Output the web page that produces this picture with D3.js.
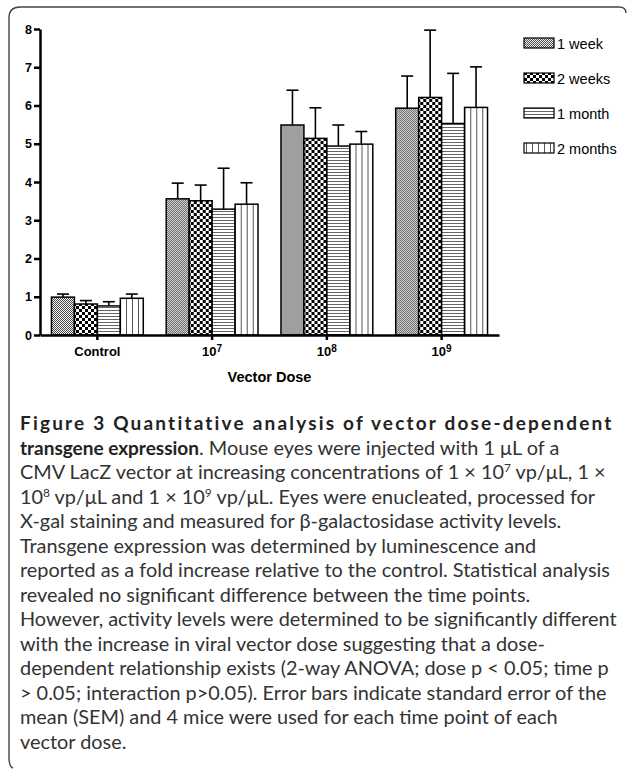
<!DOCTYPE html>
<html lang="en">
<head>
<meta charset="UTF-8">
<title>Vector dose bar chart</title>
<script src="https://d3js.org/d3.v7.min.js"></script>
<style>
    body { margin: 0; background: #fff; }
    svg { display: block; }
    .axis path, .axis line { stroke: #000; stroke-width: 2.5px; }
    .axis text { font-family: "Liberation Sans", Arial, sans-serif; font-weight: bold; font-size: 12.5px; fill: #000; }
    .caption { font-family: Lato, "Open Sans", sans-serif; fill: #333; }
</style>
</head>
<body>
<div id="chart"></div>
<script>
// dose groups and time points
var doses = ["Control", "10^7", "10^8", "10^9"];
var series = ["1 week", "2 weeks", "1 month", "2 months"];

// bar heights (fold increase), one array per time point
var week1  = [0.99, 3.56, 5.49, 5.93];
var week2  = [0.81, 3.51, 5.14, 6.21];
var month1 = [0.76, 3.29, 4.94, 5.53];
var month2 = [0.96, 3.42, 4.99, 5.95];

// SEM (upper whisker only)
var week1Err  = [0.08, 0.41, 0.91, 0.84];
var week2Err  = [0.09, 0.41, 0.80, 1.76];
var month1Err = [0.11, 1.07, 0.55, 1.31];
var month2Err = [0.11, 0.56, 0.33, 1.06];

var yTicks = [0, 1, 2, 3, 4, 5, 6, 7, 8];

var captionLines = [
    [["Figure 3 Quantitative analysis of vector dose-dependent", "b"]],
    [["transgene expression", "b"], [". Mouse eyes were injected with 1 \u03bcL of a", ""]],
    [["CMV LacZ vector at increasing concentrations of 1 \u00d7 10", ""], ["7", "sup"], [" vp/\u03bcL, 1 \u00d7", ""]],
    [["10", ""], ["8", "sup"], [" vp/\u03bcL and 1 \u00d7 10", ""], ["9", "sup"], [" vp/\u03bcL. Eyes were enucleated, processed for", ""]],
    [["X-gal staining and measured for \u03b2-galactosidase activity levels.", ""]],
    [["Transgene expression was determined by luminescence and", ""]],
    [["reported as a fold increase relative to the control. Statistical analysis", ""]],
    [["revealed no significant difference between the time points.", ""]],
    [["However, activity levels were determined to be significantly different", ""]],
    [["with the increase in viral vector dose suggesting that a dose-", ""]],
    [["dependent relationship exists (2-way ANOVA; dose p < 0.05; time p", ""]],
    [["> 0.05; interaction p>0.05). Error bars indicate standard error of the", ""]],
    [["mean (SEM) and 4 mice were used for each time point of each", ""]],
    [["vector dose.", ""]]
];

var means = [week1, week2, month1, month2];
var errs = [week1Err, week2Err, month1Err, month2Err];

var width = 627, height = 769;
var svg = d3.select("#chart").append("svg")
    .attr("width", width)
    .attr("height", height);

// fill patterns
var defs = svg.append("defs");
var p1 = defs.append("pattern").attr("id", "pat0").attr("patternUnits", "userSpaceOnUse")
    .attr("width", 2).attr("height", 2);
p1.append("rect").attr("width", 2).attr("height", 2).attr("fill", "#f4f4f4");
p1.append("rect").attr("width", 1).attr("height", 1).attr("fill", "#4a4a4a");
p1.append("rect").attr("x", 1).attr("y", 1).attr("width", 1).attr("height", 1).attr("fill", "#4a4a4a");

var p2 = defs.append("pattern").attr("id", "pat1").attr("patternUnits", "userSpaceOnUse")
    .attr("width", 6).attr("height", 6);
p2.append("rect").attr("width", 6).attr("height", 6).attr("fill", "#fff");
p2.append("rect").attr("width", 3).attr("height", 3).attr("fill", "#000");
p2.append("rect").attr("x", 3).attr("y", 3).attr("width", 3).attr("height", 3).attr("fill", "#000");

var p3 = defs.append("pattern").attr("id", "pat2").attr("patternUnits", "userSpaceOnUse")
    .attr("width", 4).attr("height", 3);
p3.append("rect").attr("width", 4).attr("height", 3).attr("fill", "#fff");
p3.append("rect").attr("y", 1).attr("width", 4).attr("height", 1).attr("fill", "#666");

var p4 = defs.append("pattern").attr("id", "pat3").attr("patternUnits", "userSpaceOnUse")
    .attr("width", 6).attr("height", 4);
p4.append("rect").attr("width", 6).attr("height", 4).attr("fill", "#fff");
p4.append("rect").attr("x", 2).attr("width", 1).attr("height", 4).attr("fill", "#555");

// frame of the figure box (top and left only)
svg.append("path")
    .attr("d", "M626,13 Q626,7 619,7 L20,7 Q9,7 9,18 L9,757 Q9,767 13,768")
    .attr("fill", "none")
    .attr("stroke", "#444")
    .attr("stroke-width", 1.4);

var x0 = d3.scaleBand().domain(doses).range([40, 499]).padding(0);
var x1 = d3.scaleBand().domain(series).range([0, x0.bandwidth()]).paddingInner(0).paddingOuter(0.5);
var y = d3.scaleLinear().domain([0, 8]).range([335, 29]);

// bars
var groups = svg.selectAll("g.dose")
    .data(doses)
    .enter().append("g")
    .attr("class", "dose")
    .attr("transform", d => "translate(" + x0(d) + ",0)");

groups.each(function(dose, di) {
    var g = d3.select(this);
    series.forEach(function(s, si) {
        var v = means[si][di], e = errs[si][di];
        var cx = x1(s) + x1.bandwidth() / 2;
        g.append("line")
            .attr("x1", cx).attr("x2", cx)
            .attr("y1", y(v)).attr("y2", y(v + e))
            .attr("stroke", "#000").attr("stroke-width", 1.6);
        g.append("line")
            .attr("x1", cx - 6).attr("x2", cx + 6)
            .attr("y1", y(v + e)).attr("y2", y(v + e))
            .attr("stroke", "#000").attr("stroke-width", 1.6);
        g.append("rect")
            .attr("x", x1(s))
            .attr("y", y(v))
            .attr("width", x1.bandwidth())
            .attr("height", y(0) - y(v))
            .attr("fill", "url(#pat" + si + ")")
            .attr("stroke", "#000")
            .attr("stroke-width", 1.5);
    });
});

// axes
svg.append("g")
    .attr("class", "axis")
    .attr("transform", "translate(40,0)")
    .call(d3.axisLeft(y).tickValues(yTicks).tickFormat(d3.format("d")).tickSize(6).tickSizeOuter(0).tickPadding(2));

var xAxis = svg.append("g")
    .attr("class", "axis")
    .attr("transform", "translate(0,335)")
    .call(d3.axisBottom(x0).tickSize(5).tickSizeOuter(0).tickPadding(7));

xAxis.selectAll(".tick text").each(function(d) {
    var t = d3.select(this);
    t.style("font-size", "13px");
    var parts = d.split("^");
    if (parts.length > 1) {
        t.text(parts[0]);
        t.append("tspan").attr("dy", "-0.45em").style("font-size", "10px").text(parts[1]);
    }
});

svg.append("text")
    .attr("x", 269.5)
    .attr("y", 382)
    .attr("text-anchor", "middle")
    .style("font-family", "'Liberation Sans', Arial, sans-serif")
    .style("font-weight", "bold")
    .style("font-size", "14.5px")
    .text("Vector Dose");

// legend
var legend = svg.selectAll("g.legend")
    .data(series)
    .enter().append("g")
    .attr("class", "legend")
    .attr("transform", (d, i) => "translate(524," + (43 + i * 35) + ")");

legend.append("rect")
    .attr("y", -5)
    .attr("width", 30)
    .attr("height", 10)
    .attr("fill", (d, i) => "url(#pat" + i + ")")
    .attr("stroke", "#000")
    .attr("stroke-width", 1.2);

legend.append("text")
    .attr("x", 33)
    .attr("y", 5.5)
    .style("font-family", "'Liberation Sans', Arial, sans-serif")
    .style("font-size", "14.5px")
    .text(d => d);

// caption
var cap = svg.append("g").attr("class", "caption");
var lineNodes = captionLines.map(function(parts, i) {
    var t = cap.append("text")
        .attr("x", 20)
        .attr("y", 430 + i * 24.5);
    parts.forEach(function(p) {
        var ts = t.append("tspan").text(p[0]);
        if (p[1] === "b") ts.attr("class", "bold");
        if (p[1] === "sup") ts.attr("class", "sup");
    });
    return t;
});

var boldSize = 19;
function styleCaption(bodySize) {
    cap.selectAll("text").style("font-size", bodySize + "px");
    cap.selectAll("tspan.bold").style("font-size", boldSize + "px").style("font-weight", "bold").style("fill", "#222");
    cap.selectAll("tspan.sup").style("font-size", (bodySize * 0.6) + "px").attr("baseline-shift", "super");
}

// fit the body size to the width of the widest reference line
styleCaption(16);
var bodyW = lineNodes[8].node().getComputedTextLength();
styleCaption(16 * 597 / bodyW);

// the title line is justified in the reference: spread its letters out
var titleText = captionLines[0][0][0];
var boldW = lineNodes[0].node().getComputedTextLength();
var spread = Math.max(0, (592 - boldW) / (titleText.length - 1));
lineNodes[0].select("tspan").style("letter-spacing", spread + "px");
</script>
</body>
</html>
